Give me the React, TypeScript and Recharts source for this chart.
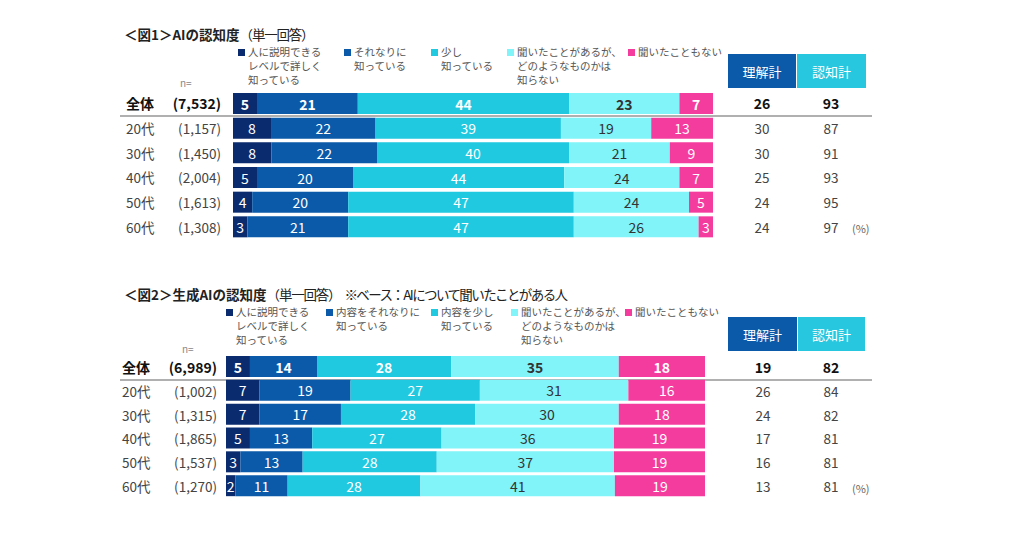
import React from 'react';
import { BarChart, Bar, XAxis, YAxis, LabelList } from 'recharts';

const categories = ['全体', '20代', '30代', '40代', '50代', '60代'];

// 図1 AIの認知度
const fig1N = ['7,532', '1,157', '1,450', '2,004', '1,613', '1,308'];
const fig1Detail = [5, 8, 8, 5, 4, 3];
const fig1Somewhat = [21, 22, 22, 20, 20, 21];
const fig1Little = [44, 39, 40, 44, 47, 47];
const fig1Heard = [23, 19, 21, 24, 24, 26];
const fig1Never = [7, 13, 9, 7, 5, 3];
const fig1Rikai = [26, 30, 30, 25, 24, 24];
const fig1Ninchi = [93, 87, 91, 93, 95, 97];

// 図2 生成AIの認知度
const fig2N = ['6,989', '1,002', '1,315', '1,865', '1,537', '1,270'];
const fig2Detail = [5, 7, 7, 5, 3, 2];
const fig2Somewhat = [14, 19, 17, 13, 13, 11];
const fig2Little = [28, 27, 28, 27, 28, 28];
const fig2Heard = [35, 31, 30, 36, 37, 41];
const fig2Never = [18, 16, 18, 19, 19, 19];
const fig2Rikai = [19, 26, 24, 17, 16, 13];
const fig2Ninchi = [82, 84, 82, 81, 81, 81];

const fig1Legend = [
  ['人に説明できる', 'レベルで詳しく', '知っている'],
  ['それなりに', '知っている'],
  ['少し', '知っている'],
  ['聞いたことがあるが、', 'どのようなものかは', '知らない'],
  ['聞いたこともない'],
];
const fig2Legend = [
  ['人に説明できる', 'レベルで詳しく', '知っている'],
  ['内容をそれなりに', '知っている'],
  ['内容を少し', '知っている'],
  ['聞いたことがあるが、', 'どのようなものかは', '知らない'],
  ['聞いたこともない'],
];

const FONT = '"Noto Sans CJK JP", "Noto Sans", sans-serif';
const keys = ['detail', 'somewhat', 'little', 'heard', 'never'];
const colors = ['#0a2b6d', '#0b5aa9', '#20c9e0', '#80f4f9', '#f43c9e'];
const labelColors = ['#fff', '#fff', '#fff', '#333', '#fff'];

const buildRows = (n: string[], cols: number[][], rikai: number[], ninchi: number[]) =>
  categories.map((cat, i) => {
    const row: any = { cat, n: n[i], rikai: rikai[i], ninchi: ninchi[i] };
    keys.forEach((k, j) => (row[k] = cols[j][i]));
    return row;
  });

const fig1Rows = buildRows(fig1N, [fig1Detail, fig1Somewhat, fig1Little, fig1Heard, fig1Never], fig1Rikai, fig1Ninchi);
const fig2Rows = buildRows(fig2N, [fig2Detail, fig2Somewhat, fig2Little, fig2Heard, fig2Never], fig2Rikai, fig2Ninchi);

const makeLabel = (color: string) => (props: any) => {
  const { x, y, width, height, value, index } = props;
  return (
    <text
      x={x + width / 2}
      y={y + height / 2}
      fill={color}
      textAnchor="middle"
      dominantBaseline="central"
      fontSize={14}
      fontWeight={index === 0 ? 700 : 400}
      fontFamily={FONT}
    >
      {value}
    </text>
  );
};

function RowTick(props: any) {
  const { y, payload, rows, catX, nEnd, col1, col2 } = props;
  const row = rows[payload.index];
  const bold = payload.index === 0;
  const common = { fontFamily: FONT, fontSize: bold ? 14 : 13.5, fontWeight: bold ? 700 : 400, fill: bold ? '#111' : '#444', dominantBaseline: 'central' as const };
  return (
    <g>
      <text x={catX} y={y} textAnchor="start" {...common}>{row.cat}</text>
      <text x={nEnd} y={y} textAnchor="end" {...common}>({row.n})</text>
      <text x={col1} y={y} textAnchor="middle" {...common}>{row.rikai}</text>
      <text x={col2} y={y} textAnchor="middle" {...common}>{row.ninchi}</text>
    </g>
  );
}

interface PanelProps {
  top: number;
  height: number;
  plotLeft: number;
  plotRight: number;
  rows: any[];
  catX: number;
  nEnd: number;
  col1: number;
  col2: number;
}

function Panel({ top, height, plotLeft, plotRight, rows, catX, nEnd, col1, col2 }: PanelProps) {
  const width = 900;
  return (
    <div style={{ position: 'absolute', left: 0, top }}>
      <BarChart
        width={width}
        height={height}
        data={rows}
        layout="vertical"
        stackOffset="expand"
        barSize={21}
        margin={{ top: 0, right: width - plotRight, bottom: 0, left: 0 }}
      >
        <XAxis type="number" hide domain={[0, 1]} />
        <YAxis
          type="category"
          dataKey="cat"
          width={plotLeft}
          axisLine={false}
          tickLine={false}
          interval={0}
          tick={<RowTick rows={rows} catX={catX} nEnd={nEnd} col1={col1} col2={col2} />}
        />
        {keys.map((k, j) => (
          <Bar key={k} dataKey={k} stackId="a" fill={colors[j]} isAnimationActive={false}>
            <LabelList dataKey={k} content={makeLabel(labelColors[j])} />
          </Bar>
        ))}
      </BarChart>
    </div>
  );
}

function Legend({ items, xs, top }: { items: string[][]; xs: number[]; top: number }) {
  return (
    <>
      {items.map((lines, j) => (
        <div key={j} style={{ position: 'absolute', left: xs[j], top, display: 'flex', fontFamily: FONT, fontSize: 10.5, lineHeight: '14px', color: '#555' }}>
          <div style={{ width: 7, height: 7, background: colors[j], marginTop: 4, marginRight: 3 }} />
          <div>
            {lines.map((l, i) => (
              <div key={i}>{l}</div>
            ))}
          </div>
        </div>
      ))}
    </>
  );
}

function Headers({ left, top, widths }: { left: number; top: number; widths: number[] }) {
  const box = (bg: string, w: number): React.CSSProperties => ({
    width: w,
    height: 34,
    background: bg,
    color: '#fff',
    fontSize: 13,
    fontFamily: FONT,
    display: 'flex',
    alignItems: 'center',
    justifyContent: 'center',
  });
  return (
    <div style={{ position: 'absolute', left, top, display: 'flex', gap: 1 }}>
      <div style={box('#0b5aa9', widths[0])}>理解計</div>
      <div style={box('#27c7df', widths[1])}>認知計</div>
    </div>
  );
}

export default function App() {
  const text: React.CSSProperties = { position: 'absolute', fontFamily: FONT, color: '#222', whiteSpace: 'nowrap' };
  const sub: React.CSSProperties = { letterSpacing: -1.2 };
  return (
    <div style={{ position: 'absolute', left: 0, top: 0, width: 1024, height: 538, background: '#fff', overflow: 'hidden' }}>
      {/* 図1 */}
      <div style={{ ...text, left: 124, top: 24, fontSize: 13.5 }}>
        <b>＜図1＞AIの認知度</b>
        <span style={sub}>（単一回答）</span>
      </div>
      <Legend items={fig1Legend} xs={[238, 344, 431, 507, 628]} top={45} />
      <div style={{ ...text, left: 180, top: 75, fontSize: 10, color: '#888' }}>n=</div>
      <Headers left={728} top={54} widths={[68, 69]} />
      <div style={{ position: 'absolute', left: 120, top: 115, width: 752, height: 2, background: '#b0b0b0' }} />
      <Panel top={91} height={148} plotLeft={233} plotRight={713} rows={fig1Rows} catX={126} nEnd={221} col1={762} col2={831} />
      <div style={{ ...text, left: 852, top: 220, fontSize: 11, color: '#666' }}>(%)</div>

      {/* 図2 */}
      <div style={{ ...text, left: 124, top: 284, fontSize: 13.5 }}>
        <b>＜図2＞生成AIの認知度</b>
        <span style={sub}>（単一回答）</span>
        <span style={{ letterSpacing: -1.6, marginLeft: 4 }}>※ベース：AIについて聞いたことがある人</span>
      </div>
      <Legend items={fig2Legend} xs={[226, 326, 431, 511, 625]} top={305} />
      <div style={{ ...text, left: 182, top: 341, fontSize: 10, color: '#888' }}>n=</div>
      <Headers left={728} top={317} widths={[69, 67]} />
      <div style={{ position: 'absolute', left: 120, top: 379, width: 752, height: 2, background: '#b0b0b0' }} />
      <Panel top={355} height={143} plotLeft={226} plotRight={705} rows={fig2Rows} catX={122} nEnd={217} col1={763} col2={831} />
      <div style={{ ...text, left: 852, top: 480, fontSize: 11, color: '#666' }}>(%)</div>
    </div>
  );
}
